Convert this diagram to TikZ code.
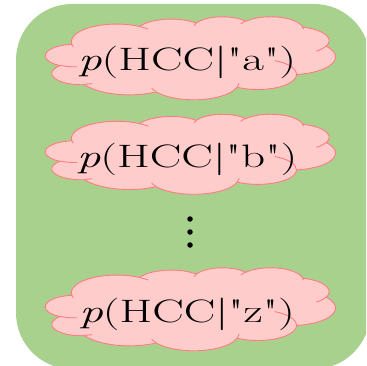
\documentclass[tikz,border=0pt]{standalone}
\usepackage{graphicx}
\usepackage{fontspec}
\setmainfont{Latin Modern Roman}
\definecolor{boxgreen}{HTML}{A9D18E}
\definecolor{cloudfill}{HTML}{FFCCCC}
\definecolor{cloudline}{HTML}{FF7C80}
\tikzset{
  cloudshape/.style={draw=cloudline, fill=cloudfill, line width=0.9pt},
  cloudcrease/.style={draw=cloudline, line width=0.9pt},
  cloudtext/.style={inner sep=0pt, anchor=base, font=\fontsize{29.5}{32}\selectfont},
  dotmark/.style={circle, fill=black, inner sep=0pt, minimum size=5.5pt}
}
\newcommand\cloudlabel[1]{\scalebox{1.6}[1.1]{\textit{p}(HCC|\textquotedbl #1\textquotedbl)}}
% PowerPoint-like cloud: #1 cx, #2 cy, #3 width, #4 height
\newcommand\pptcloud[4]{%
  \pgfmathsetmacro\cloudsx{#3/432}%
  \pgfmathsetmacro\cloudsy{#4/432}%
  \begin{scope}[shift={(#1-#3/2,#2-#4/2)}, x=\cloudsx pt, y=-\cloudsy pt]
    \path[cloudshape] (39.00,143.70)
      \foreach \a/\b/\s/\w [evaluate=\s as \ta using {atan2(\a*sin(\s),\b*cos(\s))},
                           evaluate=\w as \tb using {atan2(\a*sin(\s),\b*cos(\s))+mod(atan2(\a*sin(\s+\w),\b*cos(\s+\w))-atan2(\a*sin(\s),\b*cos(\s))+720,360)}] in {
        67.53/91.90/-190.4875/123.7805,
        53.33/72.67/-144.1024/89.9452,
        43.65/59.45/-145.8079/99.7230,
        48.57/65.95/-130.9861/117.2417,
        53.33/72.73/-78.7089/109.0269,
        67.75/92.20/-46.2673/130.2690,
        57.85/78.67/0.6250/114.0333,
        67.52/92.15/22.4516/115.1726,
        77.20/105.43/66.2426/75.7110,
        43.60/59.18/-274.9421/146.7356,
        43.45/59.45/-246.8285/152.5189}
      { arc[start angle=\ta, end angle=\tb, x radius=\a, y radius=\b] } -- cycle;
    \path[cloudcrease]
      \foreach \px/\py/\a/\b/\s/\w [evaluate=\s as \ta using {atan2(\a*sin(\s),\b*cos(\s))},
                           evaluate=\w as \tb using {atan2(\a*sin(\s),\b*cos(\s))+mod(atan2(\a*sin(\s+\w),\b*cos(\s+\w))-atan2(\a*sin(\s),\b*cos(\s))+720,360)}] in {
        46.93/261.77/43.45/59.45/86.7420/26.4295,
        69.28/348.99/43.60/59.18/73.6105/11.4475,
        164.78/390.90/67.52/92.15/137.6242/14.0811,
        288.27/347.51/67.52/92.15/6.4533/15.9984,
        341.29/229.54/57.85/78.67/-70.2924/70.9174,
        417.98/153.54/53.33/72.73/30.3180/27.7515,
        383.24/54.26/48.57/65.95/-13.7443/14.8589,
        290.78/39.52/48.57/65.95/-149.1815/18.1954,
        221.41/47.20/43.65/59.45/-163.4943/17.6864,
        140.00/51.92/67.53/91.90/-66.7070/12.3194,
        41.27/157.89/67.53/91.90/157.6544/11.8582}
      { (\px,\py) arc[start angle=\ta, end angle=\tb, x radius=\a, y radius=\b] };
  \end{scope}}
\begin{document}
\begin{tikzpicture}[x=1pt,y=-1pt]
\useasboundingbox (0,0) rectangle (366,366);
\clip (0,0) rectangle (366,366);
\fill[boxgreen, rounded corners=56pt] (16,4) rectangle (370,369);
\pptcloud{190.5}{58}{290}{83}
\pptcloud{190.5}{154}{290}{80}
\pptcloud{190.5}{309}{290}{83}
\node[cloudtext] (ta) at (187,70.5) {\cloudlabel{a}};
\node[cloudtext] (tb) at (187,167.5) {\cloudlabel{b}};
\node[cloudtext] (tz) at (187,322.5) {\cloudlabel{z}};
\node[dotmark] (d1) at (190,219) {};
\node[dotmark] (d2) at (190,232) {};
\node[dotmark] (d3) at (190,245) {};
\end{tikzpicture}
\end{document}
